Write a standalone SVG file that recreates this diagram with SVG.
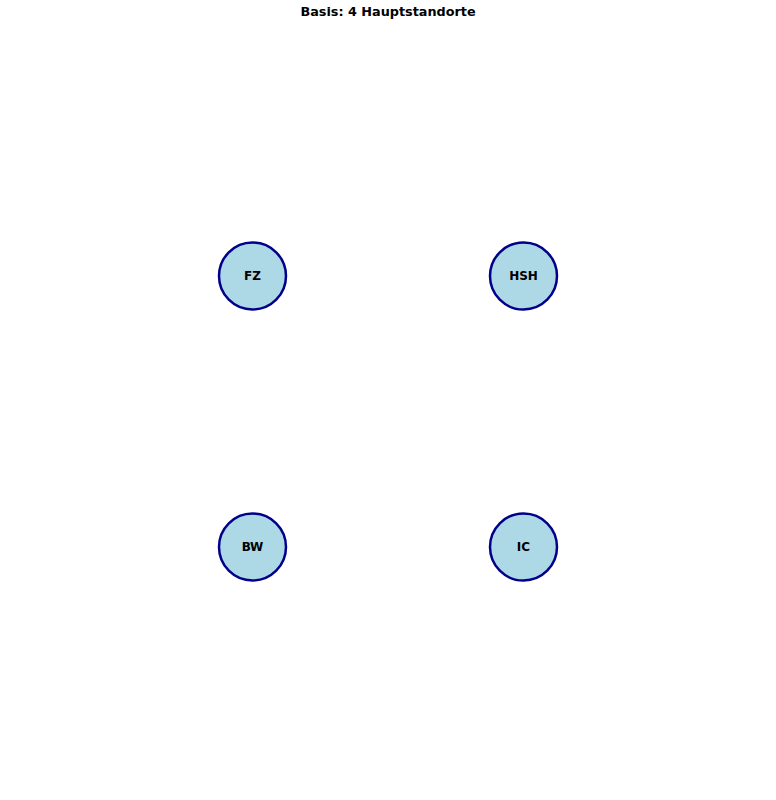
<svg xmlns="http://www.w3.org/2000/svg" width="776" height="800" viewBox="0 0 776 800">
<style>
.node circle{fill:#ADD8E6;stroke:#00008B;stroke-width:2.5}
.node text{font-family:"DejaVu Sans",sans-serif;font-weight:bold;font-size:12px;text-anchor:middle;dominant-baseline:central;fill:#000}
.title{font-family:"DejaVu Sans",sans-serif;font-weight:bold;font-size:12.8px;text-anchor:middle;fill:#000}
</style>
<rect width="776" height="800" fill="#fff"/>
<text class="title" x="388" y="15.5">Basis: 4 Hauptstandorte</text>
<g id="connectors"></g>
<g id="node-FZ" class="node"><circle cx="252.5" cy="276" r="33.5"/><text x="252.5" y="276">FZ</text></g>
<g id="node-HSH" class="node"><circle cx="523.5" cy="276" r="33.5"/><text x="523.5" y="276">HSH</text></g>
<g id="node-BW" class="node"><circle cx="252.5" cy="547" r="33.5"/><text x="252.5" y="547">BW</text></g>
<g id="node-IC" class="node"><circle cx="523.5" cy="547" r="33.5"/><text x="523.5" y="547">IC</text></g>
</svg>
